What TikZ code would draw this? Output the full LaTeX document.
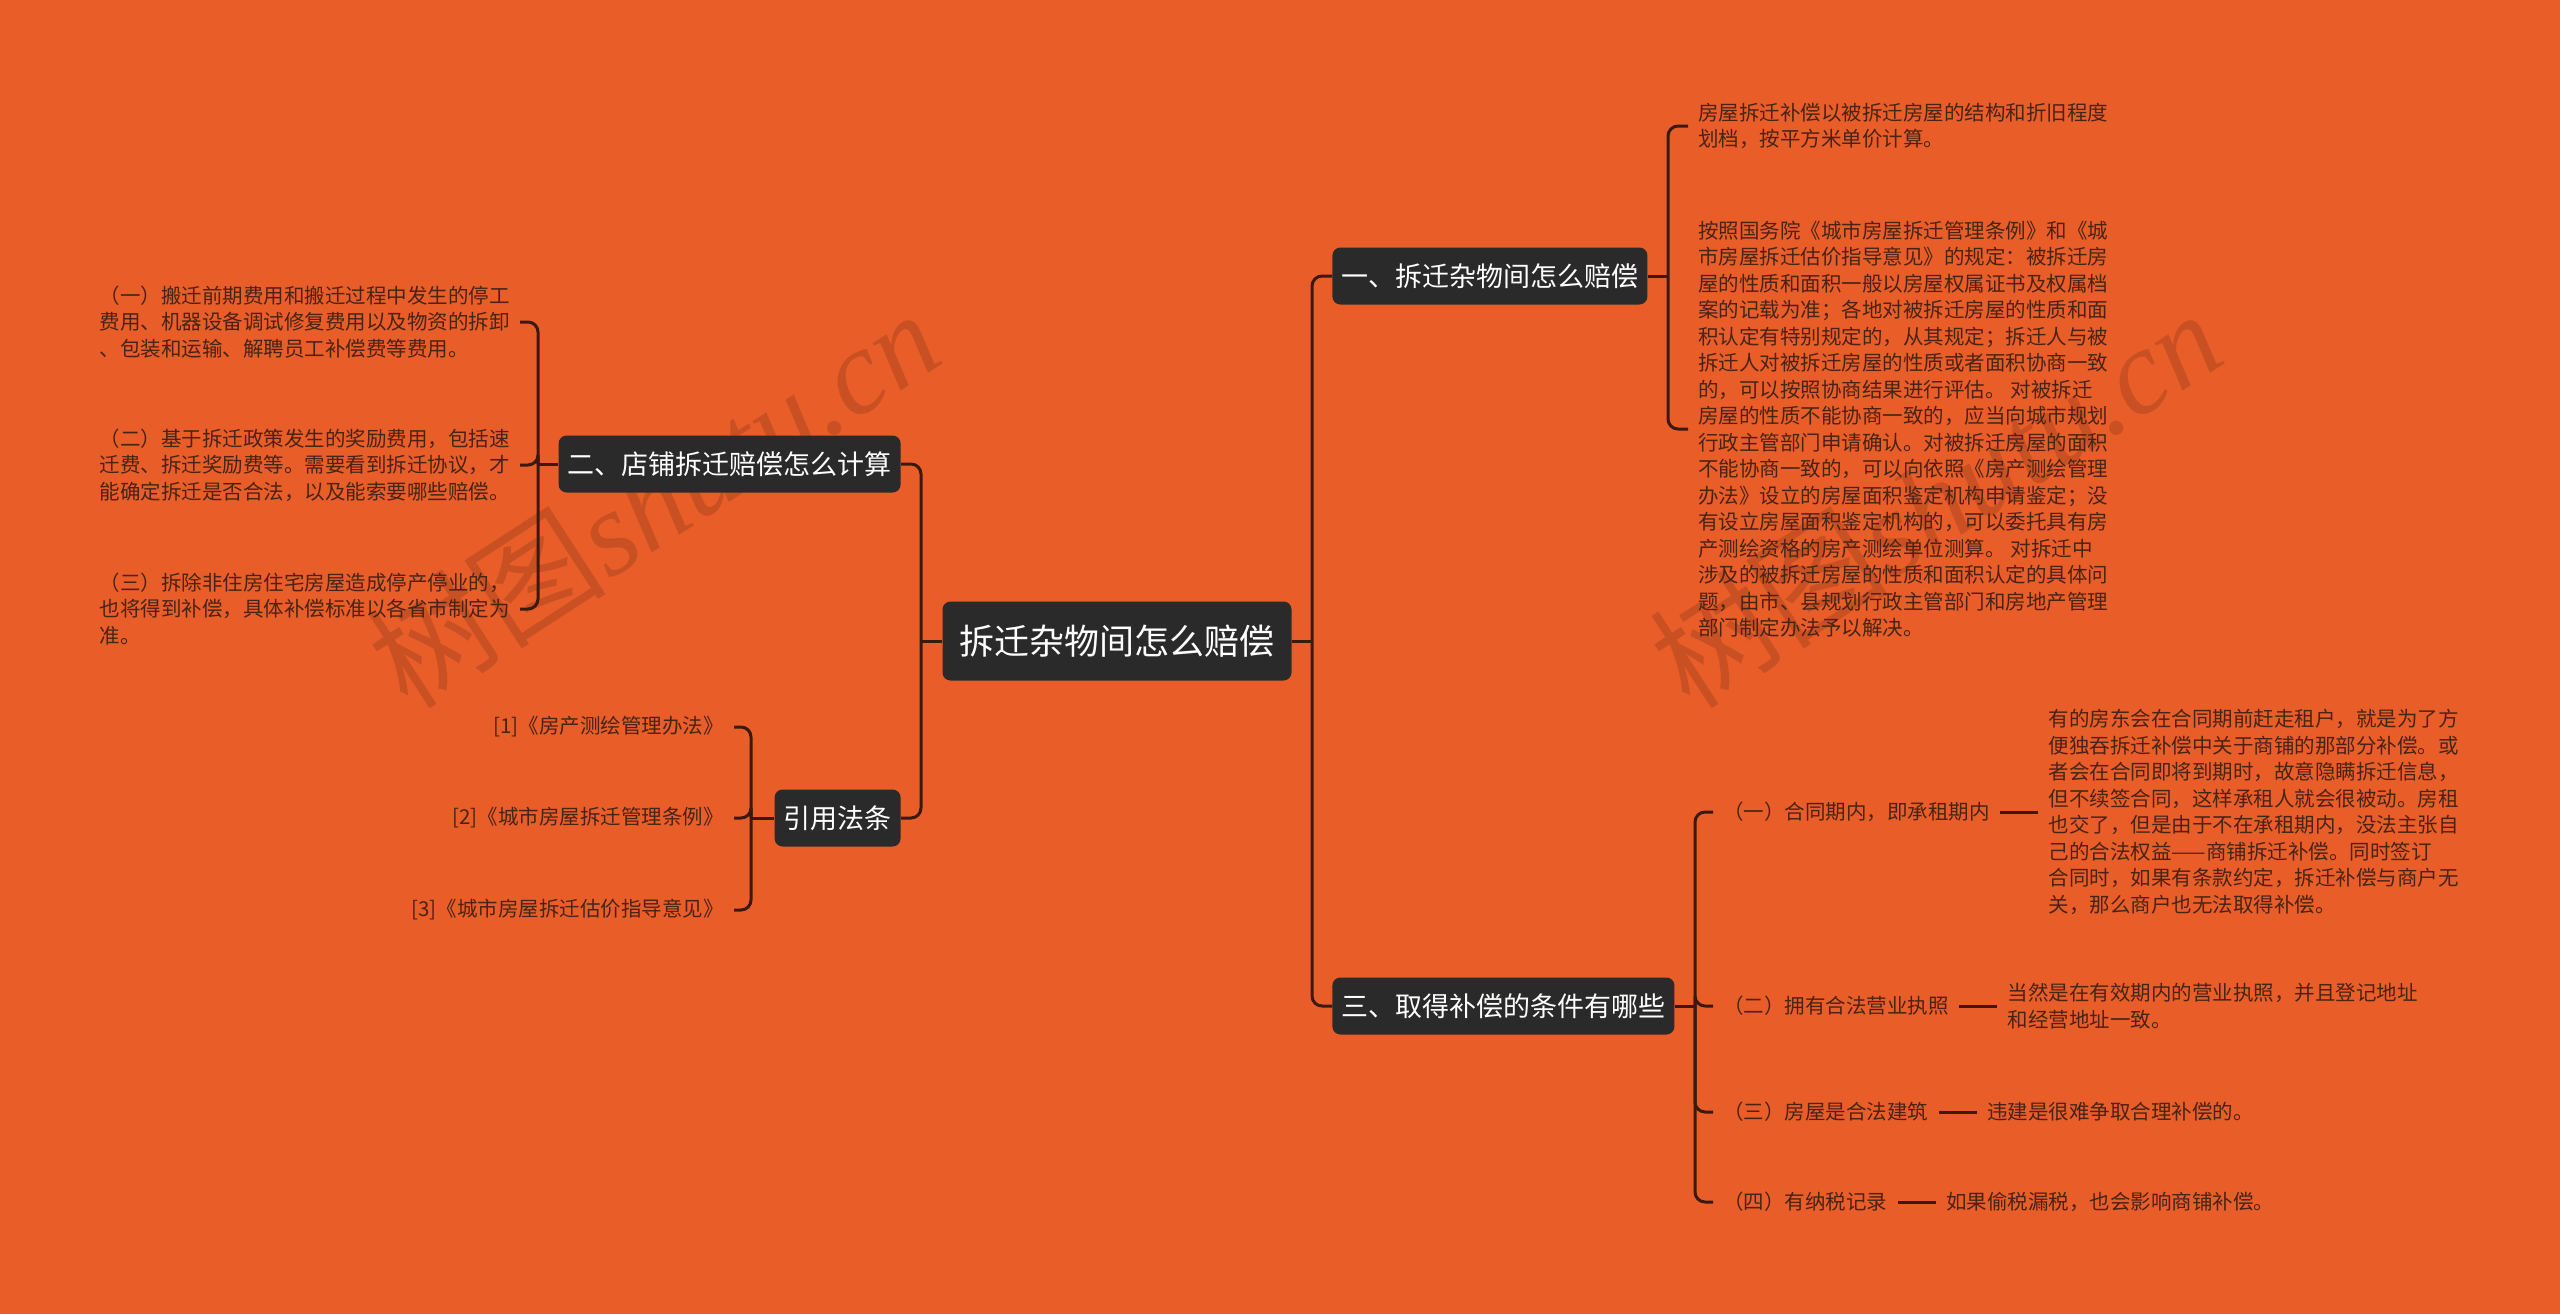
\documentclass[tikz,border=0pt]{standalone}
\usepackage{fontspec}
\setmainfont{Noto Sans CJK SC}
\newfontfamily\wmserif{Liberation Serif}
\usetikzlibrary{positioning}
\definecolor{map_bg}{RGB}{233,93,41}
\definecolor{map_box}{RGB}{42,42,42}
\definecolor{map_line}{RGB}{58,26,12}
\definecolor{map_text}{RGB}{72,36,22}

\begin{document}
\begin{tikzpicture}[x=0.5pt, y=-0.5pt,
    font=\fontsize{10.25}{13.25}\selectfont,
    topic/.style={fill=map_box, text=white, rounded corners=4pt,
      inner xsep=4.5pt, minimum height=28.5pt,
      font=\fontsize{13.5}{16}\selectfont},
    leaf/.style={text=map_text, inner xsep=5pt, inner ysep=1pt, align=left},
    link/.style={draw=map_line, line width=1.5pt, rounded corners=5pt}]
  \fill[map_bg] (0,0) rectangle (2560,1314);
  \useasboundingbox (0,0) rectangle (2560,1314);
  % watermark
  \foreach \wx in {653,1935}
    \node[rotate=33, text=map_line, opacity=0.18, font=\fontsize{60}{60}\selectfont]
      at (\wx,498) {树图{\wmserif\itshape shutu.cn}};

  % centre and main branches
  \node[topic, inner xsep=8.5pt, minimum height=39.5pt, font=\fontsize{17.5}{20}\selectfont]
    (root) at (1117,641) {拆迁杂物间怎么赔偿};
  \node[topic, anchor=west] (sec1) at (1332,276) {一、拆迁杂物间怎么赔偿};
  \node[topic, anchor=east] (sec2) at (901,464) {二、店铺拆迁赔偿怎么计算};
  \node[topic, anchor=west] (sec3) at (1332,1006) {三、取得补偿的条件有哪些};
  \node[topic, anchor=east] (laws) at (901,818) {引用法条};

  % branch one
  \node[leaf, anchor=west] (a1) at (1688,126) {房屋拆迁补偿以被拆迁房屋的结构和折旧程度\\
    划档，按平方米单价计算。};
  \node[leaf, anchor=west] (a2) at (1688,429) {按照国务院《城市房屋拆迁管理条例》和《城\\
    市房屋拆迁估价指导意见》的规定：被拆迁房\\
    屋的性质和面积一般以房屋权属证书及权属档\\
    案的记载为准；各地对被拆迁房屋的性质和面\\
    积认定有特别规定的，从其规定；拆迁人与被\\
    拆迁人对被拆迁房屋的性质或者面积协商一致\\
    的，可以按照协商结果进行评估。 对被拆迁\\
    房屋的性质不能协商一致的，应当向城市规划\\
    行政主管部门申请确认。对被拆迁房屋的面积\\
    不能协商一致的，可以向依照《房产测绘管理\\
    办法》设立的房屋面积鉴定机构申请鉴定；没\\
    有设立房屋面积鉴定机构的，可以委托具有房\\
    产测绘资格的房产测绘单位测算。 对拆迁中\\
    涉及的被拆迁房屋的性质和面积认定的具体问\\
    题，由市、县规划行政主管部门和房地产管理\\
    部门制定办法予以解决。};

  % branch two
  \node[leaf, anchor=east] (l1) at (520,322) {（一）搬迁前期费用和搬迁过程中发生的停工\\
    费用、机器设备调试修复费用以及物资的拆卸\\
    、包装和运输、解聘员工补偿费等费用。};
  \node[leaf, anchor=east] (l2) at (520,465) {（二）基于拆迁政策发生的奖励费用，包括速\\
    迁费、拆迁奖励费等。需要看到拆迁协议，才\\
    能确定拆迁是否合法，以及能索要哪些赔偿。};
  \node[leaf, anchor=east] (l3) at (520,609) {（三）拆除非住房住宅房屋造成停产停业的，\\
    也将得到补偿，具体补偿标准以各省市制定为\\
    准。};

  % cited laws
  \node[leaf, anchor=east] (r1) at (734,727) {[1]《房产测绘管理办法》};
  \node[leaf, anchor=east] (r2) at (734,818) {[2]《城市房屋拆迁管理条例》};
  \node[leaf, anchor=east] (r3) at (734,910) {[3]《城市房屋拆迁估价指导意见》};

  % branch three
  \node[leaf, anchor=west] (c1) at (1713,812) {（一）合同期内，即承租期内};
  \node[leaf, anchor=west] (c2) at (1713,1006) {（二）拥有合法营业执照};
  \node[leaf, anchor=west] (c3) at (1713,1112) {（三）房屋是合法建筑};
  \node[leaf, anchor=west] (c4) at (1713,1202) {（四）有纳税记录};
  \node[leaf, right=19pt of c1] (d1) {有的房东会在合同期前赶走租户，就是为了方\\
    便独吞拆迁补偿中关于商铺的那部分补偿。或\\
    者会在合同即将到期时，故意隐瞒拆迁信息，\\
    但不续签合同，这样承租人就会很被动。房租\\
    也交了，但是由于不在承租期内，没法主张自\\
    己的合法权益——商铺拆迁补偿。同时签订\\
    合同时，如果有条款约定，拆迁补偿与商户无\\
    关，那么商户也无法取得补偿。};
  \node[leaf, right=19pt of c2] (d2) {当然是在有效期内的营业执照，并且登记地址\\
    和经营地址一致。};
  \node[leaf, right=19pt of c3] (d3) {违建是很难争取合理补偿的。};
  \node[leaf, right=19pt of c4] (d4) {如果偷税漏税，也会影响商铺补偿。};

  % connectors
  \coordinate (rjoin) at (1312,641);
  \coordinate (ljoin) at (921,641);
  \coordinate (j1) at (1668,276);
  \coordinate (j2) at (538,464);
  \coordinate (j3) at (1695,1006);
  \coordinate (j4) at (751,818);
  \draw[link] (root.east) -- (rjoin);
  \draw[link] (root.west) -- (ljoin);
  \draw[link] (rjoin) |- (sec1.west);
  \draw[link] (rjoin) |- (sec3.west);
  \draw[link] (ljoin) |- (sec2.east);
  \draw[link] (ljoin) |- (laws.east);
  \draw[link] (sec1.east) -- (j1);
  \draw[link] (sec2.west) -- (j2);
  \draw[link] (sec3.east) -- (j3);
  \draw[link] (laws.west) -- (j4);
  \foreach \t in {a1,a2}
    \draw[link] (j1) |- (\t.west);
  \foreach \t in {l1,l2,l3}
    \draw[link] (j2) |- (\t.east);
  \foreach \t in {r1,r2,r3}
    \draw[link] (j4) |- (\t.east);
  \foreach \i in {1,...,4} {
    \draw[link] (j3) |- (c\i.west);
    \draw[link] (c\i) -- (d\i);
  }
\end{tikzpicture}
\end{document}
